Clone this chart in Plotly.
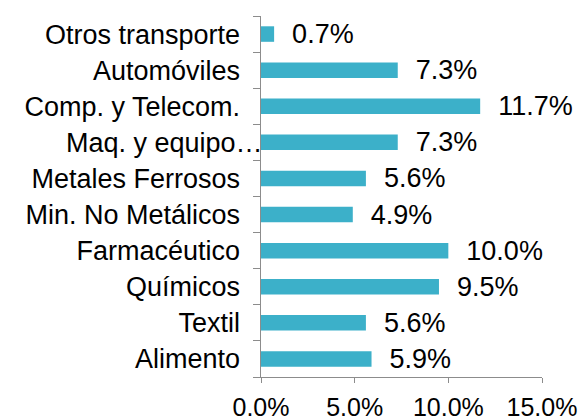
import plotly.graph_objects as go

categories = ["Otros transporte", "Automóviles", "Comp. y Telecom.", "Maq. y equipo…",
              "Metales Ferrosos", "Min. No Metálicos", "Farmacéutico", "Químicos",
              "Textil", "Alimento"]
values = [0.7, 7.3, 11.7, 7.3, 5.6, 4.9, 10.0, 9.5, 5.6, 5.9]
x_ticks = [0, 5, 10, 15]
x_tick_labels = ["0.0%", "5.0%", "10.0%", "15.0%"]

font_family = "Liberation Sans, Arial, sans-serif"
axis_color = "#8c8c8c"
NB = "\u00a0"

# the truncated label sits closer to the axis than the others
y_tick_text = [c if c.endswith("…") else c + NB * 3 for c in categories]

fig = go.Figure(go.Bar(
    x=values, y=categories, orientation="h",
    marker=dict(color="#3cb0c9", line=dict(width=0)),
    width=0.43,
    text=[NB * 2 + f"{v:.1f}%" for v in values],
    textposition="outside",
    constraintext="none",
    cliponaxis=False,
    hoverinfo="skip",
    textfont=dict(family=font_family, size=27, color="#000000"),
))

fig.update_layout(
    width=585, height=420,
    margin=dict(l=261, r=43, t=16, b=43, autoexpand=False),
    paper_bgcolor="white", plot_bgcolor="white",
    showlegend=False,
    font=dict(family=font_family, size=27, color="#000000"),
)
fig.update_xaxes(
    range=[0, 15], tickvals=x_ticks, ticktext=x_tick_labels,
    showgrid=False, zeroline=False, automargin=False,
    showline=True, linecolor=axis_color, linewidth=1,
    ticks="outside", ticklen=5, tickcolor=axis_color,
    tickfont=dict(size=25), ticklabelstandoff=3,
)
fig.update_yaxes(
    autorange="reversed", showgrid=False, zeroline=False, automargin=False,
    showline=True, linecolor=axis_color, linewidth=1,
    ticks="outside", ticklen=7, tickcolor=axis_color,
    tickson="boundaries", ticklabelstandoff=-8,
    tickvals=categories, ticktext=y_tick_text,
    tickfont=dict(size=27),
)

fig.write_html("out.html", config={"displayModeBar": False},
               post_script="document.body.style.margin='0';")
